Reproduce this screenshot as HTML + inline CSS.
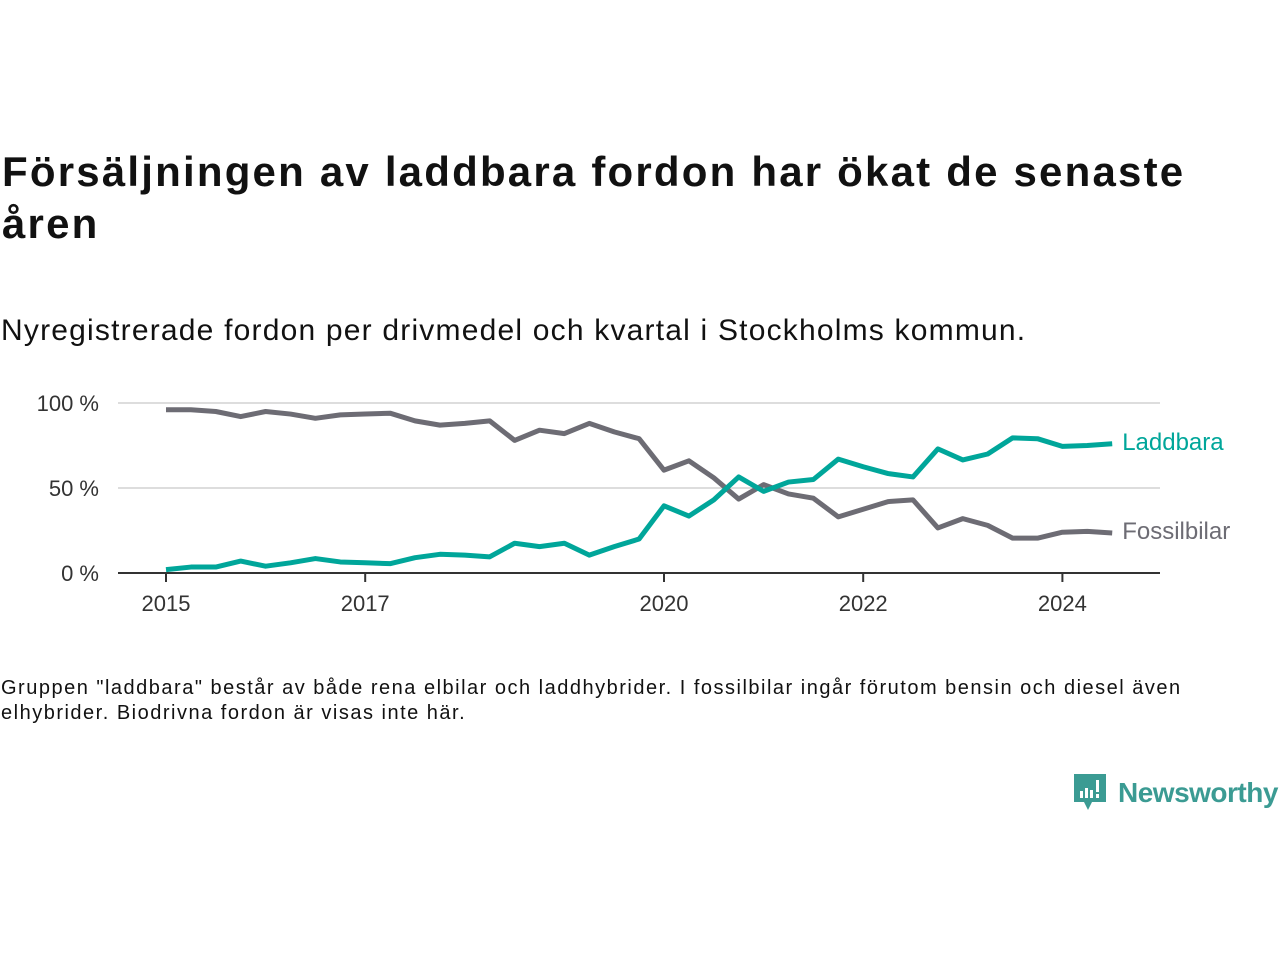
<!DOCTYPE html>
<html><head><meta charset="utf-8"><style>
body{margin:0;width:1280px;height:960px;background:#fff;font-family:"Liberation Sans",sans-serif;color:#111;position:relative;overflow:hidden}
#title{position:absolute;left:2px;top:146px;font-size:42px;font-weight:bold;line-height:52px;width:1270px;margin:0;letter-spacing:2.2px}
#sub{position:absolute;left:1px;top:314px;font-size:30px;margin:0;letter-spacing:1.2px}
#note{position:absolute;left:1px;top:676px;font-size:20px;line-height:25px;width:1270px;letter-spacing:1.5px}
svg{position:absolute;left:0;top:0}
</style></head><body>
<h1 id="title">Försäljningen av laddbara fordon har ökat de senaste<br>åren</h1>
<p id="sub">Nyregistrerade fordon per drivmedel och kvartal i Stockholms kommun.</p>
<div id="note">Gruppen "laddbara" består av både rena elbilar och laddhybrider. I fossilbilar ingår förutom bensin och diesel även<br>elhybrider. Biodrivna fordon är visas inte här.</div>
<svg id="chart" width="1280" height="960"></svg>
<div style="position:absolute;left:1072px;top:772px;display:flex;align-items:center">
<svg width="36" height="42" style="position:static"><path d="M2 2h32v28h-14l-4 8-4-8H2z" fill="#3b9b93"/><rect x="8" y="19" width="3" height="7" fill="#fff"/><rect x="13" y="16" width="3" height="10" fill="#fff"/><rect x="18" y="18" width="3" height="8" fill="#fff"/><rect x="24" y="8" width="3" height="12" fill="#fff"/><rect x="24" y="22" width="3" height="4" fill="#fff"/></svg>
<span style="font-size:28px;color:#3b9b93;margin-left:10px;font-weight:bold;letter-spacing:-0.5px">Newsworthy</span></div>
<script>
const years=[2015,2017,2020,2022,2024];
const yTicks=[0,50,100];
const laddbara=[2,3.5,3.5,7,4,6,8.5,6.5,6,5.5,9,11,10.5,9.5,17.5,15.5,17.5,10.5,15.5,20,39.5,33.5,43,56.5,48,53.5,55,67,62.5,58.5,56.5,73,66.5,70,79.5,79,74.5,75,76];
const fossil=[96,96,95,92,95,93.5,91,93,93.5,94,89.5,87,88,89.5,78,84,82,88,83,79,60.5,66,56,43.5,52,46.5,44,33,37.5,42,43,26.5,32,28,20.5,20.5,24,24.5,23.5];
const svg=document.getElementById('chart');const NS='http://www.w3.org/2000/svg';
const X=q=>166+q*24.9, XY=y=>166+(y-2015)*99.6, Y=v=>573-v*1.7;
function mk(t,a,txt){const e=document.createElementNS(NS,t);for(const k in a)e.setAttribute(k,a[k]);if(txt!=null)e.textContent=txt;svg.appendChild(e);return e;}
yTicks.forEach(v=>{if(v>0){const g=mk('line',{x1:118,x2:1160,y1:Y(v),y2:Y(v),stroke:'#ddd','stroke-width':2});

}
const t=mk('text',{x:99,y:Y(v)+8,'text-anchor':'end','font-size':22,fill:'#333'},v+' %');

});
const ax=mk('line',{x1:118,x2:1160,y1:573,y2:573,stroke:'#333','stroke-width':2});


years.forEach(y=>{const l=mk('line',{x1:XY(y),x2:XY(y),y1:573,y2:582,stroke:'#333','stroke-width':2});


const t=mk('text',{x:XY(y),y:611,'text-anchor':'middle','font-size':22,fill:'#333'},y);

});
function line(d,c,name,label){const p=mk('polyline',{points:d.map((v,i)=>X(i)+','+Y(v)).join(' '),fill:'none',stroke:c,'stroke-width':5,'stroke-linejoin':'round'});


const t=mk('text',{x:X(d.length-1)+10,y:Y(d[d.length-1])+6,'font-size':24,fill:c},label);

}
line(fossil,'#6d6c74','fossilbilar-line','Fossilbilar');
line(laddbara,'#00a69a','laddbara-line','Laddbara');
</script>
</body></html>
